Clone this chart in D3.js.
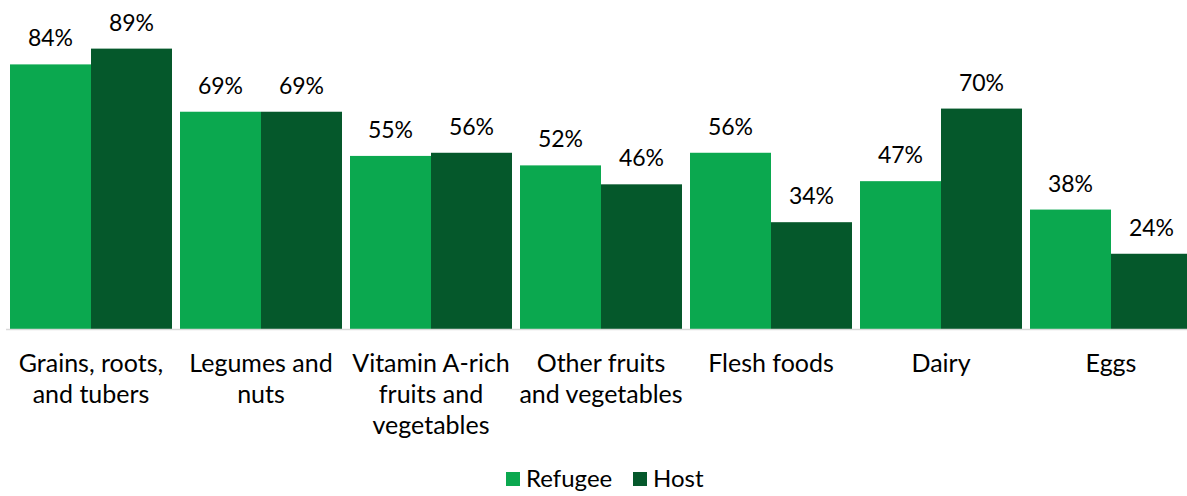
<!DOCTYPE html>
<html>
<head>
<meta charset="utf-8">
<script src="https://cdn.jsdelivr.net/npm/d3@7"></script>
<style>
  html, body { margin: 0; padding: 0; background: #fff; }
  svg { display: block; font-family: Lato, "Open Sans", sans-serif; }
</style>
</head>
<body>
<svg id="chart" width="1187" height="496"></svg>
<script>
// Food groups consumed, by population group (percent)
const categories = [
  "Grains, roots, and tubers",
  "Legumes and nuts",
  "Vitamin A-rich fruits and vegetables",
  "Other fruits and vegetables",
  "Flesh foods",
  "Dairy",
  "Eggs"
];
const categoryLines = [
  ["Grains, roots,", "and tubers"],
  ["Legumes and", "nuts"],
  ["Vitamin A-rich", "fruits and", "vegetables"],
  ["Other fruits", "and vegetables"],
  ["Flesh foods"],
  ["Dairy"],
  ["Eggs"]
];
const seriesNames = ["Refugee", "Host"];
const refugee = [84, 69, 55, 52, 56, 47, 38];
const host = [89, 69, 56, 46, 34, 70, 24];

const colors = { Refugee: "#0ba84f", Host: "#05582b" };

const svg = d3.select("#chart");
const W = 1187;

const x0 = d3.scaleBand()
  .domain(categories)
  .range([6, 1196])
  .paddingInner(8 / 170)
  .paddingOuter(4 / 170);

const x1 = d3.scaleBand()
  .domain(seriesNames)
  .range([0, x0.bandwidth()])
  .padding(0);

const y = d3.scaleLinear().domain([0, 100]).range([329.5, 13.9]);

const rows = categories.map((c, i) => ({
  category: c,
  values: [
    { series: "Refugee", value: refugee[i] },
    { series: "Host", value: host[i] }
  ]
}));

// bars
const groups = svg.append("g").selectAll("g")
  .data(rows)
  .join("g")
  .attr("transform", d => `translate(${x0(d.category)},0)`);

groups.selectAll("rect")
  .data(d => d.values)
  .join("rect")
  .attr("x", d => x1(d.series))
  .attr("y", d => y(d.value))
  .attr("width", x1.bandwidth())
  .attr("height", d => y(0) - y(d.value))
  .attr("fill", d => colors[d.series]);

// value labels
groups.selectAll("text.val")
  .data(d => d.values)
  .join("text")
  .attr("class", "val")
  .attr("x", d => x1(d.series) + x1.bandwidth() / 2)
  .attr("y", d => y(d.value) - 18)
  .attr("text-anchor", "middle")
  .attr("font-size", 23)
  .attr("fill", "#000")
  .text(d => d.value + "%");

// baseline axis
const xAxis = d3.axisBottom(x0).tickSize(0).tickFormat("");
const axisG = svg.append("g")
  .attr("transform", `translate(0,${y(0)})`)
  .call(xAxis);
axisG.select(".domain")
  .attr("d", `M6,0H${W}`)
  .attr("stroke", "#d9d9d9")
  .attr("stroke-width", 1.5);

// category labels
const catG = svg.append("g");
catG.selectAll("text")
  .data(categories)
  .join("text")
  .attr("x", d => x0(d) + x0.bandwidth() / 2)
  .attr("y", 371.5)
  .attr("text-anchor", "middle")
  .attr("font-size", 25)
  .attr("fill", "#000")
  .each(function (d, i) {
    d3.select(this).selectAll("tspan")
      .data(categoryLines[i])
      .join("tspan")
      .attr("x", x0(d) + x0.bandwidth() / 2)
      .attr("dy", (t, j) => j === 0 ? 0 : 31)
      .text(t => t);
  });

// legend
const legendItems = [
  { name: "Refugee", x: 506 },
  { name: "Host", x: 633 }
];
const leg = svg.append("g").selectAll("g")
  .data(legendItems)
  .join("g")
  .attr("transform", d => `translate(${d.x},472)`);
leg.append("rect")
  .attr("width", 14).attr("height", 14)
  .attr("fill", d => colors[d.name]);
leg.append("text")
  .attr("x", 20).attr("y", 15)
  .attr("font-size", 24)
  .attr("fill", "#000")
  .text(d => d.name);
</script>
</body>
</html>
